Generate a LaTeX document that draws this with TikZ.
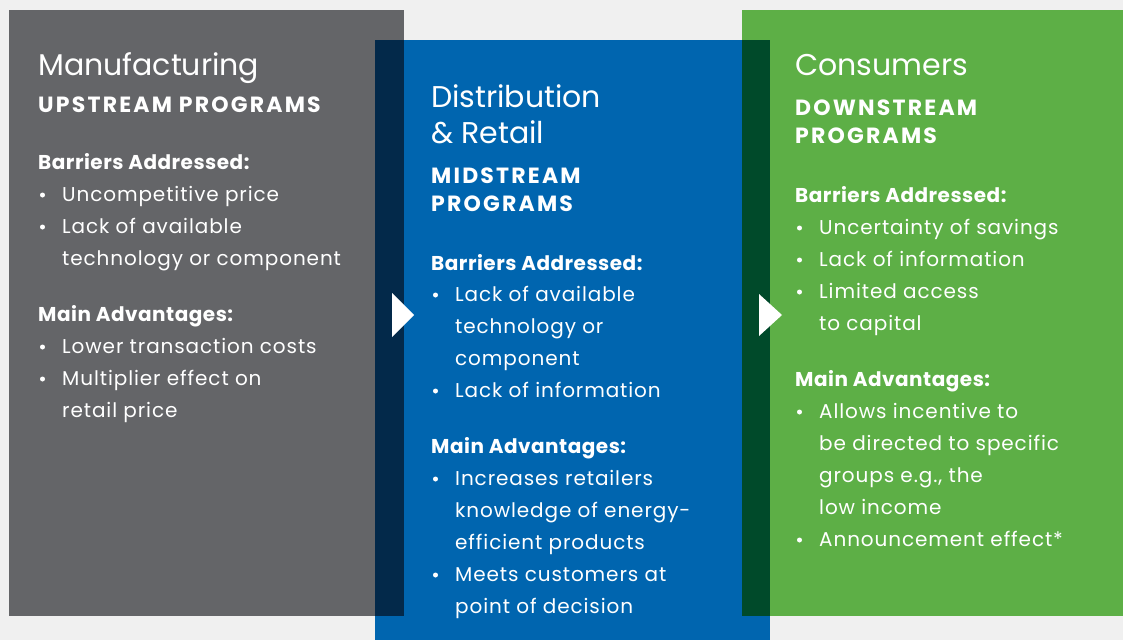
\documentclass[tikz,border=0pt]{standalone}
\usepackage{fontspec}
\setmainfont{Poppins}

\definecolor{bggray}{HTML}{F0F0F0}
\definecolor{mfggray}{HTML}{646568}
\definecolor{distblue}{HTML}{0065AF}
\definecolor{navyband}{HTML}{03294A}
\definecolor{consgreen}{HTML}{5DAF46}
\definecolor{greenband}{HTML}{004A2A}

\newcommand{\headfont}{\fontsize{30}{36}\selectfont}
\newcommand{\capsfont}{\bfseries\fontsize{22}{28}\selectfont\addfontfeature{LetterSpace=10}}
\newcommand{\subfont}{\bfseries\fontsize{20}{28}\selectfont\addfontfeature{LetterSpace=2.5}}
\newcommand{\bodyfont}{\fontsize{20}{32}\selectfont\addfontfeature{LetterSpace=4.5}}

\tikzset{
  txt/.style={anchor=base west, inner sep=0pt, text=white, font=\bodyfont},
  head/.style={txt, font=\headfont},
  caps/.style={txt, font=\capsfont},
  sub/.style={txt, font=\subfont},
}

\begin{document}
\begin{tikzpicture}[x=1pt, y=-1pt]
    % --- Hintergrund ---
    \fill[bggray] (0,0) rectangle (1123,640);
    \useasboundingbox (0,0) rectangle (1123,640);

    % --- Felder ---
    \fill[mfggray] (9,10) rectangle (404,616);
    \fill[consgreen] (742,10) rectangle (1123,616);
    \fill[distblue] (375,40) rectangle (770,640);
    \fill[navyband] (375,40) rectangle (404,616);
    \fill[greenband] (742,40) rectangle (770,616);

    % --- Pfeile ---
    \fill[white] (392,293) -- (392,337) -- (414,315) -- cycle;
    \fill[white] (759,294) -- (759,336) -- (782,315) -- cycle;

    % --- Manufacturing ---
    \node[head] (mfg) at (38,75) {Manufacturing};
    \node[caps] (mfg-sub) at (38,112) {UPSTREAM PROGRAMS};
    \node[sub] (mfg-bar) at (38,169) {Barriers Addressed:};
    \node[sub] (mfg-adv) at (38,321) {Main Advantages:};
    \foreach \y/\t/\n/\b in {201/Uncompetitive price/1/1, 233/Lack of available/2/1,
        265/technology or component/3/0, 353/Lower transaction costs/4/1,
        385/Multiplier effect on/5/1, 417/retail price/6/0} {
        \node[txt] (mfg-\n) at (62,\y) {\t};
        \ifnum\b=1 \fill[white] (42.5,\y-6) circle (2.5); \fi
    }

    % --- Distribution & Retail ---
    \node[head] (dist) at (431,107) {Distribution};
    \node[head] (dist-2) at (431,143) {\& Retail};
    \node[caps] (dist-sub) at (431,183) {MIDSTREAM};
    \node[caps] (dist-sub2) at (431,211) {PROGRAMS};
    \node[sub] (dist-bar) at (431,270) {Barriers Addressed:};
    \node[sub] (dist-adv) at (431,453) {Main Advantages:};
    \foreach \y/\t/\n/\b in {301/Lack of available/1/1, 333/technology or/2/0,
        365/component/3/0, 397/Lack of information/4/1,
        485/Increases retailers/5/1, 517/knowledge of energy-/6/0,
        549/efficient products/7/0, 581/Meets customers at/8/1,
        613/point of decision/9/0} {
        \node[txt] (dist-\n) at (455,\y) {\t};
        \ifnum\b=1 \fill[white] (435.5,\y-6) circle (2.5); \fi
    }

    % --- Consumers ---
    \node[head] (cons) at (795,75) {Consumers};
    \node[caps] (cons-sub) at (795,115) {DOWNSTREAM};
    \node[caps] (cons-sub2) at (795,143) {PROGRAMS};
    \node[sub] (cons-bar) at (795,202) {Barriers Addressed:};
    \node[sub] (cons-adv) at (795,386) {Main Advantages:};
    \foreach \y/\t/\n/\b in {234/Uncertainty of savings/1/1, 266/Lack of information/2/1,
        298/Limited access/3/1, 330/to capital/4/0,
        418/Allows incentive to/5/1, 450/be directed to specific/6/0,
        482/{groups e.g., the}/7/0, 514/low income/8/0,
        546/Announcement effect*/9/1} {
        \node[txt] (cons-\n) at (819,\y) {\t};
        \ifnum\b=1 \fill[white] (799.5,\y-6) circle (2.5); \fi
    }
\end{tikzpicture}
\end{document}
